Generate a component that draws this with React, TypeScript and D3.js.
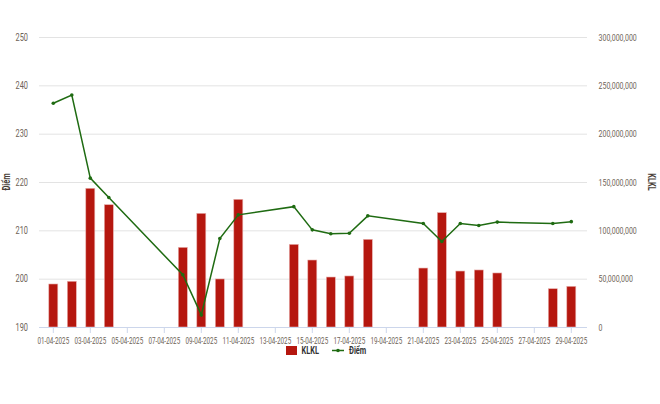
import React from "react";
import * as d3 from "d3";

const dates = ["2025-04-01","2025-04-02","2025-04-03","2025-04-04","2025-04-08","2025-04-09","2025-04-10","2025-04-11","2025-04-14","2025-04-15","2025-04-16","2025-04-17","2025-04-18","2025-04-21","2025-04-22","2025-04-23","2025-04-24","2025-04-25","2025-04-28","2025-04-29"];
const volume = [44.5e6,47.3e6,143.5e6,126.5e6,82.4e6,117.6e6,49.7e6,132.1e6,85.5e6,69.3e6,51.7e6,52.8e6,90.7e6,61e6,118.3e6,57.9e6,59e6,55.9e6,39.6e6,42.1e6];
const points = [236.3,238.0,220.8,216.8,200.8,192.5,208.3,213.2,214.9,210.1,209.3,209.4,213.0,211.4,207.7,211.4,211.0,211.7,211.4,211.8];
const leftTicks = [190,200,210,220,230,240,250];
const rightTicks = [0,50e6,100e6,150e6,200e6,250e6,300e6];
const xTickDays = [1,3,5,7,9,11,13,15,17,19,21,23,25,27,29];

const W = 660, H = 404;
const plotL = 39, plotR = 587, plotT = 37, plotB = 327;
const font = "Roboto, 'Noto Sans', sans-serif";
const labelColor = "#6e6357";
const SX = 0.74;

const parse = d3.utcParse("%Y-%m-%d");
const fmtX = d3.utcFormat("%d-%m-%Y");

function T(props: { x: number; y: number; anchor?: string; size?: number; bold?: boolean; fill?: string; rotate?: number; children: React.ReactNode }) {
  const { x, y, anchor = "start", size = 9, bold = false, fill = labelColor, rotate = 0, children } = props;
  return (
    <text
      transform={`translate(${x},${y}) rotate(${rotate}) scale(${SX},1)`}
      textAnchor={anchor}
      fontSize={size}
      fontWeight={bold ? "bold" : "normal"}
      fill={fill}
    >
      {children}
    </text>
  );
}

export default function App() {
  const x = d3.scaleUtc()
    .domain([parse("2025-04-01")!, parse("2025-04-29")!])
    .range([53.3, 571.3]);
  const yL = d3.scaleLinear().domain([190, 250]).range([plotB, plotT]);
  const yR = d3.scaleLinear().domain([0, 300e6]).range([plotB, plotT]);
  const data = dates.map((d, i) => ({ date: parse(d)!, v: volume[i], p: points[i] }));
  const line = d3.line<typeof data[0]>().x(d => x(d.date)).y(d => yL(d.p));
  const fmtR = d3.format(",");
  const bw = 9;
  return (
    <svg width={W} height={H} style={{ position: "absolute", left: 0, top: 0, background: "#fff" }} fontFamily={font}>
      {leftTicks.map(t => (
        <g key={t}>
          {t !== 190 && <line x1={plotL} x2={plotR} y1={yL(t) + 0.5} y2={yL(t) + 0.5} stroke="#e3e3e3" strokeWidth={1} />}
          <T x={28} y={yL(t) + 3.5} anchor="end" size={10}>{t}</T>
        </g>
      ))}
      {rightTicks.map(t => (
        <T key={t} x={598.5} y={yR(t) + 3.5} size={9.5}>{fmtR(t)}</T>
      ))}
      {data.map((d, i) => (
        <rect key={i} x={x(d.date) - bw / 2} y={yR(d.v)} width={bw} height={plotB - yR(d.v)} fill="#b5170f" stroke="#e8b0ad" strokeWidth={0.6} />
      ))}
      <line x1={plotL} x2={plotR} y1={plotB + 0.5} y2={plotB + 0.5} stroke="#ccd6eb" />
      {xTickDays.map(dd => {
        const dt = new Date(Date.UTC(2025, 3, dd));
        const xx = x(dt);
        return (
          <g key={dd}>
            <line x1={xx} x2={xx} y1={plotB} y2={plotB + 6} stroke="#ccd6eb" />
            <T x={xx} y={344} anchor="middle" size={8.5}>{fmtX(dt)}</T>
          </g>
        );
      })}
      <path d={line(data) || ""} fill="none" stroke="#1f6b12" strokeWidth={1.5} />
      {data.map((d, i) => (
        <circle key={i} cx={x(d.date)} cy={yL(d.p)} r={1.8} fill="#1f6b12" />
      ))}
      <T x={10} y={182} anchor="middle" size={10} bold rotate={-90} fill="#4a4038">Điểm</T>
      <T x={648} y={182} anchor="middle" size={10} bold rotate={90} fill="#4a4038">KLKL</T>
      <rect x={286} y={346} width={11} height={9} fill="#b5170f" />
      <T x={301.5} y={354} size={10} bold fill="#333">KLKL</T>
      <line x1={332} x2={344} y1={350.5} y2={350.5} stroke="#1f6b12" strokeWidth={1.5} />
      <circle cx={338} cy={350.5} r={1.8} fill="#1f6b12" />
      <T x={349} y={354} size={10} bold fill="#333">Điểm</T>
    </svg>
  );
}
